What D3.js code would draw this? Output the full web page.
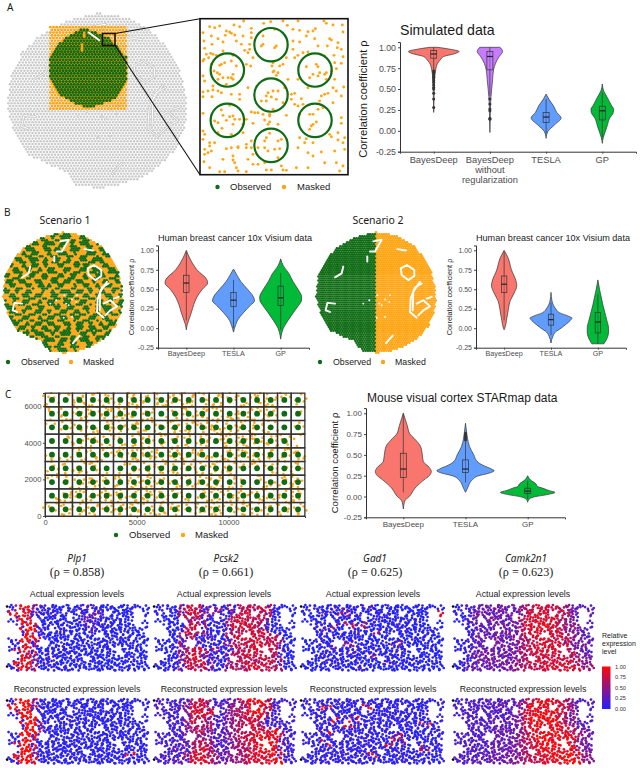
<!DOCTYPE html>
<html><head><meta charset="utf-8">
<script src="https://cdn.jsdelivr.net/npm/d3@7"></script>
<style>html,body{margin:0;padding:0;background:#fff}svg{display:block}text{font-family:"Liberation Sans",Arial,sans-serif}</style>
</head><body><svg id="c" width="640" height="768"></svg>
<script>
// ---------- DATA ----------
const violinPalette = {red:"#F8766D",purple:"#C77CFF",blue:"#619CFF",green:"#00BA38"};
const OBS="#0f6b14", MASK="#FFA513";
const simBayes=[[1,12],[.98,45],[.95,76],[.92,60],[.89,30],[.85,20],[.81,12],[.73,6],[.59,2],[.4,1],[.22,0]];
const simNoReg=[[1,30],[.98,35],[.95,38],[.89,28],[.81,17],[.73,11],[.61,8],[.49,5],[.33,2],[.15,1],[-.02,0]];
const simTesla=[[.44,0],[.38,8],[.30,22],[.22,32],[.155,45],[.07,25],[-.01,5],[-.09,0]];
const simGP=[[.56,0],[.48,4],[.40,15],[.30,28],[.26,34],[.22,33],[.15,22],[.05,14],[-.02,8],[-.08,3],[-.15,0]];
const b1Bayes=[[1,0],[.9,10],[.75,32],[.62,62],[.58,64],[.5,48],[.4,32],[.3,22],[.2,15],[.1,7],[.05,3],[-.02,0]];
const b1Tesla=[[.76,0],[.7,8],[.6,22],[.5,42],[.4,60],[.35,63],[.3,52],[.2,30],[.1,12],[.05,7],[0,3],[-.05,0]];
const b1GP=[[.89,0],[.8,8],[.7,25],[.6,37],[.5,52],[.4,63],[.35,62],[.3,55],[.2,38],[.1,22],[0,8],[-.05,4],[-.14,0]];
const b2Bayes=[[1,0],[.9,12],[.75,22],[.6,36],[.55,38],[.45,30],[.35,18],[.25,13],[.1,7],[0,2],[-.02,0]];
const b2Tesla=[[.46,0],[.35,3],[.25,14],[.2,25],[.15,55],[.13,63],[.1,58],[.05,45],[0,30],[-.05,13],[-.1,6],[-.19,0]];
const b2GP=[[.62,0],[.5,5],[.4,10],[.3,15],[.2,21],[.1,27],[0,32],[-.05,32],[-.1,30],[-.15,25],[-.2,18]];
const cBayes=[[1,0],[.85,12],[.75,20],[.7,32],[.6,52],[.5,57],[.42,60],[.35,78],[.3,84],[.25,78],[.2,62],[.1,35],[0,18],[-.05,5],[-.15,0]];
const cTesla=[[.88,0],[.75,4],[.7,6],[.6,12],[.5,25],[.42,35],[.38,50],[.33,78],[.31,86],[.28,70],[.25,40],[.2,20],[.1,6],[.05,0]];
const cGP=[[.25,0],[.2,8],[.15,25],[.12,30],[.1,45],[.07,65],[.05,82],[.02,55],[0,25],[-.03,5],[-.07,0]];
const simBox=[[.74,.87,.92,.96,1],[.42,.73,.89,.95,1],[-.03,.10,.165,.22,.38],[-.08,.13,.24,.295,.46]];
const b1Box=[[.1,.46,.58,.68,.98],[0,.28,.36,.46,.62],[-.02,.29,.39,.54,.71]];
const b2Box=[[.1,.46,.565,.67,.98],[-.09,.04,.11,.18,.33],[-.2,-.06,.08,.2,.44]];
const cBox=[[.05,.23,.33,.52,1],[.17,.29,.33,.44,.66],[-.03,.035,.065,.1,.19]];
const simOutliers=[[.72,.70,.68,.66,.64,.62,.60,.58,.55,.52,.50,.45,.38,.28],[.38,.32,.26,.24,.15,.14],[],[]];
const cOutliers=[[],[.76,.74,.72,.70,.68],[]];
const catsSim=["BayesDeep","BayesDeep\nwithout\nregularization","TESLA","GP"];
const cats3=["BayesDeep","TESLA","GP"];
const yTicks=[-.25,0,.25,.5,.75,1];
const outline=[[0,-60],[20,-57],[36,-48],[47,-36],[55,-22],[59,-5],[60,8],[58,20],[52,34],[42,45],[30,53],[12,59],[0,60],[-14,58],[-22,48],[-30,45],[-45,38],[-55,22],[-60,5],[-58,-15],[-50,-33],[-38,-45],[-20,-55]];
const holes=[[[24.7,-24],[31,-27.3],[38.3,-22.3],[38.3,-16.3],[32.3,-12.3],[25.7,-17.3],[24.7,-24]],
[[45.7,-9],[39,-5],[34.7,6],[34,19.3],[40.7,25]],[[44,-10.7],[37.3,-.7],[36.7,17.7]],
[[40.7,11],[47.3,7.7],[54,13.7],[47.3,17.7],[42.3,22.7]],[[50.7,6],[55.7,4.3]],
[[-32.7,-25.7],[-34.3,-19],[-41,-15]],[[-41,11],[-48.7,10.3],[-50.3,17.7],[-46,19.3]],
[[-6,-40.7],[-1,-40.7],[5.7,-52.3],[-2.7,-50.7]],[[-8.7,-35.7],[-8.7,-30.7]],[[21.3,-43],[30,-41.7]],[[10,50.3],[16.7,42.7]],
[[1.3,2.7],[1.3,2.7]],[[9,7],[9,7]],[[14,2.7],[14,2.7]],[[3.3,11],[3.3,11]],[[13.3,9.3],[13.3,9.3]],[[5.7,12.7],[5.7,12.7]],[[.7,25],[.7,25]],[[9,24.3],[9,24.3]],[[-12.7,11],[-12.7,11]],[[-6.7,7.7],[-6.7,7.7]]];
const observedZone=[[-10.2,-49.5],[-1.3,-47.2],[8.7,-42.6],[20.2,-28.9],[20.2,-12.9],[13.1,-1.5],[-6.4,5.8],[-25.8,-3.8],[-31.8,-15.2],[-31.8,-30.1],[-22.4,-42.6]];
const maskedSquare=[-32,20.4,-51,6];
const maskedPatches=[[[-10,-39.2],[-10,-33.5]],[[-8.5,-47.2],[-8.5,-43]]];
const openStripe=[[-6,-47],[2,-41]];
const insetCircles=[[219,86],[88,162],[351,162],[219,237],[88,313],[351,313],[219,388]];
const insetDots=[[137,15],[197,22],[218,17],[255,15],[300,15],[378,15],[385,22],[35,32],[50,35],[65,30],[108,27],[125,32],[160,37],[230,40],[268,28],[285,40],[305,43],[330,47],[345,45],[352,38],[405,27],[433,27],[15,50],[85,45],[95,48],[100,52],[135,60],[160,50],[18,75],[40,60],[60,68],[82,58],[110,57],[75,78],[42,85],[115,75],[130,85],[160,65],[155,85],[285,75],[305,78],[325,60],[350,68],[395,68],[400,72],[420,80],[435,48],[195,85],[190,90],[235,90],[230,95],[195,60],[20,97],[25,115],[38,112],[45,115],[55,118],[75,105],[155,100],[165,125],[150,110],[105,118],[140,103],[285,100],[300,118],[315,110],[330,108],[360,90],[388,90],[418,95],[430,100],[408,118],[380,120],[435,122],[265,125],[15,135],[32,125],[40,145],[18,130],[70,145],[100,135],[65,148],[80,140],[115,150],[145,145],[158,150],[225,140],[222,150],[228,165],[240,170],[245,150],[255,145],[290,125],[325,152],[355,145],[360,152],[410,140],[430,142],[345,175],[400,165],[415,158],[48,165],[58,170],[65,175],[75,185],[90,185],[105,175],[100,185],[60,190],[105,190],[85,205],[235,178],[225,168],[270,190],[300,190],[335,185],[365,170],[385,170],[380,175],[360,180],[385,190],[410,190],[15,180],[20,195],[15,228],[30,225],[45,222],[60,225],[70,230],[42,242],[15,242],[100,235],[125,235],[150,215],[210,230],[225,225],[240,225],[205,240],[220,243],[190,255],[205,255],[235,250],[260,215],[280,235],[290,232],[310,248],[330,215],[405,215],[415,225],[437,213],[390,232],[380,235],[370,240],[430,240],[45,210],[125,250],[280,250],[15,292],[70,282],[95,268],[160,288],[170,290],[180,290],[195,295],[215,295],[225,280],[255,260],[290,265],[300,270],[315,265],[345,295],[360,280],[375,275],[335,295],[405,260],[365,255],[75,298],[95,302],[105,300],[110,310],[50,315],[60,320],[85,313],[105,325],[72,337],[125,310],[145,310],[165,322],[135,325],[200,312],[215,318],[210,325],[240,325],[265,298],[305,295],[215,300],[345,325],[355,318],[340,330],[335,340],[430,305],[430,322],[15,345],[20,355],[60,350],[100,355],[135,350],[205,365],[215,352],[200,375],[250,370],[305,365],[325,368],[345,380],[395,355],[400,362],[420,350],[440,365],[420,372],[435,380],[15,370],[35,380],[50,380],[35,390],[120,392],[145,385],[160,375],[240,375],[20,400],[40,405],[30,410],[20,415],[85,398],[100,395],[120,395],[145,395],[160,395],[180,395],[200,395],[230,400],[245,398],[210,405],[165,415],[105,420],[75,430],[150,430],[240,425],[330,410],[345,420],[370,408],[410,405],[440,400],[300,395],[320,380],[18,437],[35,455],[110,440],[105,432],[165,445],[180,445],[200,440],[250,450],[265,463],[295,455],[330,455],[380,440],[415,440],[435,450],[65,467],[80,467],[115,455],[120,465],[145,467],[205,462],[220,462],[255,462],[425,465]];
const scenario1=[
"GOOGGOOGOGGOOGGOGOOGGOOGOOGGOG","OOGGOOGGOOGGGOOGOOGGGOOOGGOOGO","GGOOOGGOGGOOGGOOGGOOOGGOOGGOOG","OGGOOGOOOGGOOGGGOOGGOGOOGGGOOG",
"OOOGGOOGGOOOGGOOOGGOOGGOOOGGOO","GGOOGOOGGGOOOGGOGGOOOGGGOOGGOO","OGGGOOGOOGGOOOGOOGGGOOGOOOGGGO","OOGGOOOGGOOGGOOGGOOOGGOOGGOOOG",
"GOOOGGOOGGGOOGOOGGOOGOOOGGOOGG","GGOOOGGOOGOOGGOGGOOGGOGGOOOGGO","OGGOOOGOOGGOOGOOOGGOOOGGOGGOOO","OOOGGOOGGOOGOOGGOOOGGOOOGGOOGG",
"GOOGGGOOOGGOOOGGGOOGOOGGOOOGGO","GGOOOGOOGGOOGGOOOGGOOGGOOGOOOG","OOOGGOOGGOOOGGOGGOOOGGOOOGGOGG","OGGOOGGOOOGGOOOGGOOGGOOGGOOOGO",
"OOGGOOOGGOOGGOGOOGGOOOGOOGGOOG","GOOOGGOOOGOOGGOOGGOOOGGOOOGGOO","GGOOGOOGGOOOGOOGOOGGGOOGGOOGOO","OOGGOOGGOOGGOOOGGOOOGGOOOGGOOG",
"OOOGGOOOGGOOGGOOGGOGOOGGOOOGGO","GOOGOOGGOOOGOOGGOOOGGOOOGGOOOG","GGOOOGGOOGGOOOGGOGOOGOOGGOOGOO","OGGGOOOGGOOGGOOOGGOOGGOOOGGOOG",
"OOGGOOGOOOGGOOGOOOGGOOGGOOGOOG","GOOOGGOOGGOOGGOOGGOOOGOOGGOOGG","OGGOOOGGOOOGOOGGOOGGOOGGOOOGGO","OOGGOGOOGGOOGGOOOGGOOOGOOGGOOG",
"GOOGGOOGOOGGOOGGOOOGGOOGGOOGOO","OGGOOGGOOGOOGGOOGGOOGOOGGOOGGO"];
const starX=[380,1125,1870,2615,3360,4105,4850,5595,6340,7085,7830,8575,9320,10065,10810,11555,12300,13045,13790];
const starY=[6339,5590,4844,4097,3350,2603,1856,1109,362];
const starEmpty=[[18,3]];
const spots=[
"4.713.85.2.941.36.75.1.842.6.39.517.4.86.2.7...3",
".58.1.672.49.3.86.4.915.2.74.3.68.41.7.95.2....6",
"27.8.3.5.14.96.7.25.8.31.684.9.27.3.618.5.2.....7",
"3.59.46.2.8.137.4.96.5.2.81.63.924.7.5.38.1.6...4",
".8.2.7.419.5.36.2.8.471.69.3.258.16.4.97.3.82....",
"46.1..73.8.25.9.64.3.7.18.426.93.5.71.8.4.27....6",
"9..5.2.41.7.3.86.1.49.2.58.7.3146.9.2.75.3.8.1...",
"....71.6.39.4.28.5.7.14.8.2.96.35.418.6.29.5.7.4.",
"...3.8.526.9.1.4.72.5.8.3.61.459.27.8.31.6.49.2.7",
"..64.17.5.28.93.46.7.2.85.1.36.9.572.4.8.16.3.5.2",
"8.2.5.3.47.1.6.9.28.41.5.7.392.68.4.15.7.92.3.64.",
"17..6.28.5.93.4.7.1.5.36.84.2.6197.3.528.4.6.19.7",
".3.9.2.6.41.8.57.26.9.3.7.18.4.93.25.7.41.8.3.6.2",
"..5..71.38.2.64.5.9.13.8.47.6.259.7.83.1.46.72.5.",
".96.4.3.1.57.82.49.6.3.71.8.25.4.168.3.97.2.5.4.8",
"2.7..5.4.8.1.6.3.9.274.8.16.935.2.7.41.6.8.35.7..",
"..34.8.27.5.16.384.7.1.29.6.3.574.82.5.19.46.3.7.",
"6.1.9.5.3.84.7.2.16.48.5.73.28.1.6.94.7.3.1.5.62.",
".58..14.62.9.37.4.8.1.5.26.3.849.25.7.1.68.39.4..",
"7.3.6.8.2.41.5.93.7.16.8.42.7.36.5.28.4.1.9.53.7.",
"49.2.76.5.1.382.47.9.3.6.18.5.94.2.673.8.41.6.5.3",
".1.85.3.47.2.6.9.1.58.4.7.36.2.85.1.9.47.2.83.6.4"];
// regions without cells: [u0,v0,u1,v1]
const spotVoids=[[43,1.7,46,7.2],[0,6.7,4,11],[0,15.5,3,18.5],[11,11.7,14,14.2],[20,3,22,5],[30,9,32.5,11],[37,14,39,16.5],[8,4,10,6],[26,17,28,19],[14,7,16,9],[33,2,35,4]];
const plp1Actual=["196982020110031301001010","089971030110213400100100","029870102001024301010010","013970010010103120100100","001894100200010301001000","012989010010100100102010","001980201100010020010100","019890010210100100200010","018970130102001010100200","009890120100200100010010","029970011020100010010100"];
const plp1Recon=["199992111111111111111111","199992111111111111111111","119992111111111111111011","111992111121111111111111","111999111111111111111111","111999211111111111211111","111994111111111111111111","119991111111111111111111","119991112111111111111111","119991111111111111111911","119991111111111211111111"];
const pcsk2Actual=["102017786161706777681201","210107878272116867872010","100105767131267877761010","020104786012168787602001","001016867202176787861010","100025671310177888777701","010017562012167787887610","010136786171027688878720","100207887230176787787601","020106788612067786787710","010127867720176678877601"];
const pcsk2Recon=["323232778732345789892232","233233788742456689983322","332232688832356789882222","323233687732456787832322","232232676732456787622232","323242667632456778878922","232232575432456789898832","323243677742346778898932","232342688853356678898922","323232788964456678889832","232343889864356678888922"];
const gad1Actual=["012010602103001100010010","100130170210120101100108","010010012060012010020001","001202607160201020100010","010030100201070102010020","000100201020010100103000","010120305102001060200100","001013010301020102010010","100120204010501020100100","010103010201001300201010","001010201030100010100010"];
const gad1Recon=["221212121212112111212112","112192112129112112111111","212111212111211211212121","121212912912121121111112","212121219112121112121911","121292121212111211111112","212121212121211191211211","121291212121211911912112","212121212121111121211911","121212121212911112111211","212121212121211111211211"];
const camkActual=["102344545435678878765343","011345344534778887875434","102434453436788888765423","010345345345788988776543","001234434536788888765443","012345345356678887886543","011234435345678887885454","012344534536678888878543","001345445345678787887654","102345354456678878788755","013444534546677788888856"];
const camkRecon=["233333333434679898875433","233333343434789899876433","233333333344788998876432","223333343444789899876433","223333334344788989886433","233333334444689899888654","223333344445688989898754","233333443445678989898754","233333444445678898989854","233333444455678889899965","233343444455677888989965"];
const genes=["Plp1","Pcsk2","Gad1","Camk2n1"];
const rhos=["0.858","0.661","0.625","0.623"];
const colorTicks=[0,.25,.5,.75,1];

// ---------- HELPERS ----------
const svg=d3.select("#c");
const T=(x,y,s,o={})=>svg.append("text").attr("x",x).attr("y",y).attr("font-size",o.size||9).attr("fill",o.fill||"#1a1a1a")
  .attr("text-anchor",o.anchor||"start").attr("font-style",o.italic?"italic":null).style("font-family",o.font||null).text(s);

function violin(o){
  const {left,right,y1,y0,cats,shapes,boxes,colors,outliers}=o;
  const y=d3.scaleLinear().domain([-.25,1.0625]).range([y0,y1-(y0-y1)*.05]);
  const x=d3.scalePoint().domain(cats).range([left,right]).padding(.6);
  const w=d3.scaleLinear().domain([0,90]).range([0,30]);
  const g=svg.append("g");
  cats.forEach((c,i)=>{
    const cx=x(c), area=d3.area().y(d=>y(d[0])).x0(d=>cx-w(d[1])).x1(d=>cx+w(d[1])).curve(d3.curveMonotoneY);
    g.append("path").attr("d",area(shapes[i])).attr("fill",colors[i]).attr("stroke","#333").attr("stroke-width",.7);
    const [lo,q1,m,q3,hi]=boxes[i], bw=o.boxW||3;
    g.append("line").attr("x1",cx).attr("x2",cx).attr("y1",y(lo)).attr("y2",y(hi)).attr("stroke","#333").attr("stroke-width",.7);
    g.append("rect").attr("x",cx-bw).attr("width",bw*2).attr("y",y(q3)).attr("height",y(q1)-y(q3)).attr("fill",colors[i]).attr("fill-opacity",.4).attr("stroke","#333").attr("stroke-width",.7);
    g.append("line").attr("x1",cx-bw).attr("x2",cx+bw).attr("y1",y(m)).attr("y2",y(m)).attr("stroke","#222").attr("stroke-width",1.2);
    if(outliers) g.selectAll(null).data(outliers[i]).join("circle").attr("cx",cx).attr("cy",d=>y(d)).attr("r",1.5).attr("fill","#333");
  });
  const ya=svg.append("g").attr("transform",`translate(${left},0)`).call(d3.axisLeft(y).tickValues(yTicks).tickFormat(d=>d.toFixed(2)).tickSize(2).tickPadding(2));
  const xa=svg.append("g").attr("transform",`translate(0,${y0})`).call(d3.axisBottom(x).tickSize(2).tickPadding(3).tickFormat(()=>""));
  [ya,xa].forEach(a=>{a.select(".domain").attr("stroke","#333").attr("stroke-width",1);a.selectAll(".tick line").attr("stroke","#444");});
  ya.selectAll("text").attr("font-size",o.tickSize).attr("fill","#4d4d4d");
  cats.forEach(c=>c.split("\n").forEach((l,k)=>T(x(c),y0+o.catY+k*o.catLead,l,{size:o.catSize,anchor:"middle",fill:"#4d4d4d"})));
  T(left+(o.titleDx||0),o.titleY,o.title,{size:o.titleSize,anchor:"start"});
  svg.append("text").attr("transform",`translate(${o.labelX},${o.labelY}) rotate(-90)`).attr("text-anchor","middle").attr("font-size",o.labelSize).attr("fill","#1a1a1a").text("Correlation coefficient ρ");
}
function lattice(r,p){const a=[];const rows=Math.ceil(r/(p*.866));
  d3.range(-rows,rows+1).forEach(j=>d3.range(-Math.ceil(r/p)-1,Math.ceil(r/p)+2).forEach(i=>{a.push([(i+(j&1)/2)*p,j*p*.866]);}));return a;}
const inTissue=d=>d3.polygonContains(outline,d);
function legend(x1,tx1,x2,tx2,y,size){
  svg.append("circle").attr("cx",x1).attr("cy",y).attr("r",2.2).attr("fill",OBS);
  T(tx1,y+3.2,"Observed",{size:size||9.5});
  svg.append("circle").attr("cx",x2).attr("cy",y).attr("r",2.2).attr("fill",MASK);
  T(tx2,y+3.2,"Masked",{size:size||9.5});
}
function hexMap(sx,sy,p,r,colorOf){
  const pts=lattice(60,p).filter(inTissue).map(d=>({p:d,c:colorOf(d)}));
  pts.sort((a,b)=>(a.c===OBS)-(b.c===OBS));
  svg.append("g").selectAll("circle").data(pts).join("circle")
    .attr("cx",d=>sx(d.p[0])).attr("cy",d=>sy(d.p[1])).attr("r",r).attr("fill",d=>d.c);
}
function holeLines(sx,sy,col,w){
  const ln=d3.line().x(d=>sx(d[0])).y(d=>sy(d[1]));
  svg.append("g").selectAll("path").data(holes).join("path").attr("d",ln).attr("fill","none").attr("stroke",col).attr("stroke-width",w).attr("stroke-linecap","round").attr("stroke-linejoin","round");
}

// ---------- PANEL A ----------
T(7,11,"A",{size:10,font:"Noto Sans"});
const ax=d3.scaleLinear().domain([-60,60]).range([7,187]), ay=d3.scaleLinear().domain([-60,60]).range([13,188]);
hexMap(ax,ay,2.15,1.25,()=>"#cbcbcb");
holeLines(ax,ay,"#c6c6c6",2.4);holeLines(ax,ay,"#fff",1);
const [sq0,sq1,sq2,sq3]=maskedSquare;
const latA=lattice(60,2.15);
svg.append("g").selectAll("circle").data(latA.filter(d=>d[0]>=sq0&&d[0]<=sq1&&d[1]>=sq2&&d[1]<=sq3)).join("circle")
  .attr("cx",d=>ax(d[0])).attr("cy",d=>ay(d[1])).attr("r",1.35).attr("fill",MASK);
const polyLine=d3.line().x(d=>ax(d[0])).y(d=>ay(d[1]));
svg.append("path").attr("d",polyLine(observedZone)+"Z").attr("fill",MASK);
svg.append("g").selectAll("circle").data(latA.filter(d=>d3.polygonContains(observedZone,d))).join("circle")
  .attr("cx",d=>ax(d[0])).attr("cy",d=>ay(d[1])).attr("r",1.55).attr("fill",OBS);
maskedPatches.forEach(p=>svg.append("path").attr("d",polyLine(p)).attr("stroke",MASK).attr("stroke-width",2.5).attr("fill","none"));
svg.append("path").attr("d",polyLine(openStripe)).attr("stroke","#fff").attr("stroke-width",2).attr("fill","none");
const ix=d3.scaleLinear().domain([6,450]).range([200,348]), iy=d3.scaleLinear().domain([8,476]).range([18.7,174.7]);
svg.append("rect").attr("x",ix(6)).attr("y",iy(8)).attr("width",ix(450)-ix(6)).attr("height",iy(476)-iy(8)).attr("fill","#fff");
svg.append("g").selectAll("circle").data(insetDots).join("circle").attr("cx",d=>ix(d[0])).attr("cy",d=>iy(d[1])).attr("r",1.45).attr("fill",MASK);
svg.append("g").selectAll("circle").data(insetCircles).join("circle").attr("cx",d=>ix(d[0])).attr("cy",d=>iy(d[1])).attr("r",16.7).attr("fill","none").attr("stroke",OBS).attr("stroke-width",2.2);
svg.append("rect").attr("x",ix(6)).attr("y",iy(8)).attr("width",ix(450)-ix(6)).attr("height",iy(476)-iy(8)).attr("fill","none").attr("stroke","#111").attr("stroke-width",1.6);
svg.append("rect").attr("x",102.5).attr("y",33.5).attr("width",12.5).attr("height",12).attr("fill","none").attr("stroke","#111").attr("stroke-width",1.6);
svg.append("line").attr("x1",115).attr("y1",33.5).attr("x2",ix(6)).attr("y2",iy(8)).attr("stroke","#111").attr("stroke-width",1.1);
svg.append("line").attr("x1",115).attr("y1",45.5).attr("x2",ix(6)).attr("y2",iy(476)).attr("stroke","#111").attr("stroke-width",1.1);
legend(217.5,230,284,297,187);
violin({left:400,right:636,y1:47.3,y0:151.7,cats:catsSim,shapes:[simBayes,simNoReg,simTesla,simGP],boxes:simBox,outliers:simOutliers,
  colors:[violinPalette.red,violinPalette.purple,violinPalette.blue,violinPalette.green],tickSize:8.8,catSize:9.3,catY:11,catLead:10.3,
  title:"Simulated data",titleY:35,titleSize:14.2,labelX:367,labelY:99,labelSize:11.2,boxW:3});

// ---------- PANEL B ----------
T(4,216,"B",{size:10,font:"Noto Sans"});
T(65,224,"Scenario 1",{size:10.5,anchor:"middle",font:"Noto Sans"});
T(378,224,"Scenario 2",{size:10.5,anchor:"middle",font:"Noto Sans"});
const s1x=d3.scaleLinear().domain([-60,60]).range([3,123]), s2x=d3.scaleLinear().domain([-60,60]).range([316,436]), sy=d3.scaleLinear().domain([-60,60]).range([232,353]);
hexMap(s1x,sy,2.3,1.35,d=>{const r=scenario1[Math.floor((d[1]+60)/3.2)%30],c=r[Math.floor((d[0]+60)/3.2)%30];return c==="G"?OBS:MASK;});
holeLines(s1x,sy,"#fff",1.9);
hexMap(s2x,sy,2.3,1.3,d=>d[0]<0?OBS:MASK);
holeLines(s2x,sy,"#fff",1.9);
legend(8,21,71,83,362,8.8);
legend(320,333,383,395,362,8.8);
const vb={y1:250.3,y0:347.7,tickSize:7,catSize:7.2,catY:8.5,catLead:9,title:"Human breast cancer 10x Visium data",titleY:241,titleSize:9.1,labelSize:7.3,labelY:297,boxW:2.7,
  cats:cats3,colors:[violinPalette.red,violinPalette.blue,violinPalette.green]};
violin({...vb,left:158,right:309,shapes:[b1Bayes,b1Tesla,b1GP],boxes:b1Box,labelX:134});
violin({...vb,left:476,right:626,shapes:[b2Bayes,b2Tesla,b2GP],boxes:b2Box,labelX:452});

// ---------- PANEL C ----------
T(5,398,"C",{size:10,font:"Noto Sans"});
const cx=d3.scaleLinear().domain([0,14170]).range([45,305]), cy=d3.scaleLinear().domain([0,6720]).range([516,393]);
const baseSpots=[];spots.forEach((row,j)=>row.split("").forEach((ch,i)=>{if(ch==="."||i>=48)return;
  const d=+ch-1;baseSpots.push({i,j,u:i+(j%2)/2+((d%3)-1)*.3,v:j+.5+(Math.floor(d/3)-1)*.3});}));
const allSpots=baseSpots.concat(baseSpots.map(s=>({i:s.i+1,j:s.j,u:Math.max(.3,47.7-s.u+.25),v:(s.v+.5)%22})))
  .filter(s=>!spotVoids.some(z=>s.u>=z[0]&&s.u<=z[2]&&s.v>=z[1]&&s.v<=z[3]));
const half=372;
svg.append("g").selectAll("circle").data(allSpots).join("circle")
  .attr("cx",d=>cx(d.u/48*14170)).attr("cy",d=>cy(6720-d.v/22*6720)).attr("r",1.3).attr("fill",MASK);
const boxG=svg.append("g");
starY.forEach(yy=>starX.forEach(xx=>{
  boxG.append("rect").attr("x",cx(xx-half)).attr("y",cy(yy+half)).attr("width",cx(xx+half)-cx(xx-half)).attr("height",cy(yy-half)-cy(yy+half)).attr("fill","none").attr("stroke","#333").attr("stroke-width",1.3);
}));
const centers=[];starY.forEach((yy,r)=>starX.forEach((xx,c)=>{if(!starEmpty.some(e=>e[0]===c&&e[1]===r))centers.push([xx,yy]);}));
svg.append("g").selectAll("circle").data(centers).join("circle").attr("cx",d=>cx(d[0])).attr("cy",d=>cy(d[1])).attr("r",2.9).attr("fill",OBS);
const cax=svg.append("g").attr("transform","translate(0,516)").call(d3.axisBottom(cx).tickValues([0,5000,10000]).tickFormat(d3.format("d")).tickSize(2).tickPadding(1.5));
const cay=svg.append("g").attr("transform","translate(45,0)").call(d3.axisLeft(cy).tickValues([0,2000,4000,6000]).tickFormat(d3.format("d")).tickSize(2).tickPadding(1.5));
[cax,cay].forEach(a=>{a.select(".domain").attr("stroke","#333");a.selectAll(".tick line").attr("stroke","#444");a.selectAll("text").attr("font-size",7.6).attr("fill","#4d4d4d");});
legend(116,129,183,195,535);
violin({left:366,right:565,y1:413.3,y0:517.3,cats:cats3,shapes:[cBayes,cTesla,cGP],boxes:cBox,outliers:cOutliers,colors:[violinPalette.red,violinPalette.blue,violinPalette.green],
  tickSize:8,catSize:8,catY:10,catLead:9,title:"Mouse visual cortex STARmap data",titleDx:1,titleY:402,titleSize:12,labelX:338,labelY:463,labelSize:9.6,boxW:3});

// ---------- EXPRESSION ----------
const level=d3.scaleSequential(d3.interpolateRgb("#2222ff","#ff0808")).domain([0,1]);
function exprPanel(x0,x1,y0,y1,grid){
  const px=d3.scaleLinear().domain([0,48]).range([x0,x1]), py=d3.scaleLinear().domain([0,22]).range([y0,y1]);
  svg.append("g").selectAll("circle").data(allSpots).join("circle")
    .attr("cx",d=>px(d.u)).attr("cy",d=>py(d.v)).attr("r",1.35)
    .attr("fill",d=>{
      const shift=(d.i+d.j)%2;
      const rr=grid[Math.min(10,Math.floor(d.v/2))],k=Math.min(23,Math.floor(d.u/2)+shift);
      return level(Math.pow(+rr[k]/9,1.4));
    });
}
const panelX=[[8,148],[155,295],[302,443],[454,593]];
const geneCX=[77,226,375,526], labCX=[77,224,373,523];
const actual=[plp1Actual,pcsk2Actual,gad1Actual,camkActual], recon=[plp1Recon,pcsk2Recon,gad1Recon,camkRecon];
genes.forEach((g,i)=>{
  T(geneCX[i],562,g,{size:10,anchor:"middle",italic:true,font:"Noto Sans",fill:"#222"});
  T(geneCX[i],576,`(ρ = ${rhos[i]})`,{size:12.2,anchor:"middle",font:"Liberation Serif",fill:"#222"});
  T(labCX[i],597,"Actual expression levels",{size:8.8,anchor:"middle"});
  T(labCX[i],692,"Reconstructed expression levels",{size:8.8,anchor:"middle"});
  exprPanel(panelX[i][0],panelX[i][1],605,671,actual[i]);
  exprPanel(panelX[i][0],panelX[i][1],699,764,recon[i]);
});
["Relative","expression","level"].forEach((t,i)=>T(602,638+i*8,t,{size:7}));
const defs=svg.append("defs"),grad=defs.append("linearGradient").attr("id","cb").attr("x1",0).attr("x2",0).attr("y1",1).attr("y2",0);
colorTicks.forEach(t=>grad.append("stop").attr("offset",t).attr("stop-color",level(t)));
const cb=d3.scaleLinear().domain([0,1]).range([709,666.5]);
svg.append("rect").attr("x",602).attr("y",cb(1)).attr("width",8.5).attr("height",cb(0)-cb(1)).attr("fill","url(#cb)");
colorTicks.forEach(t=>T(615,cb(t)+2,t.toFixed(2),{size:5.6,fill:"#333"}));
</script></body></html>
